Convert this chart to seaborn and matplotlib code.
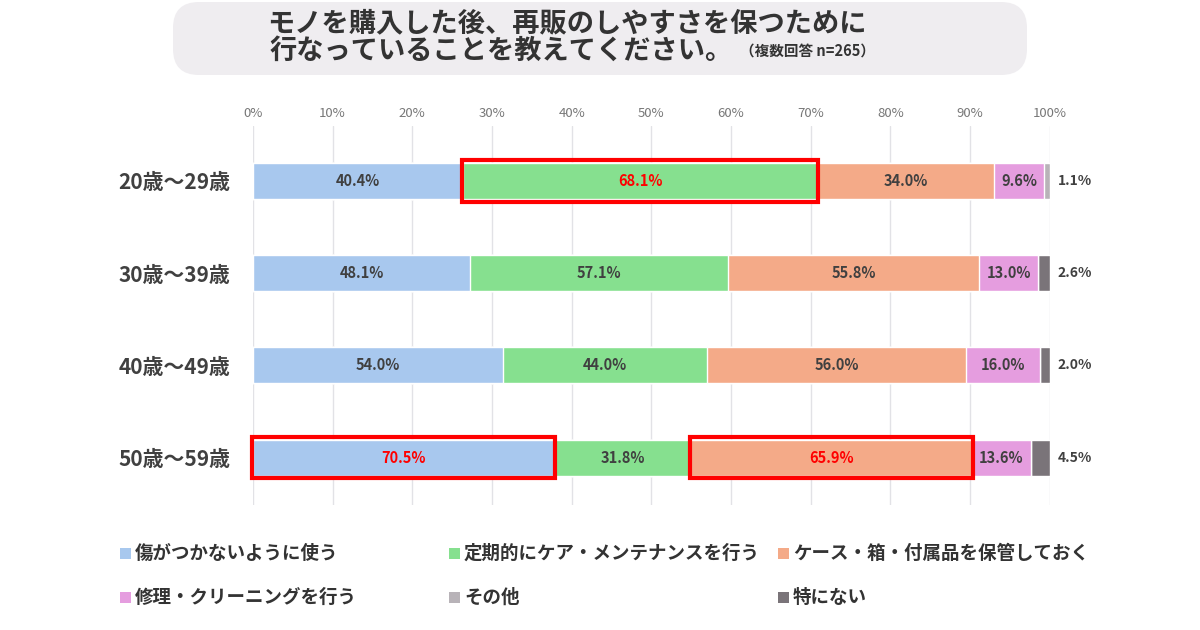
import numpy as np
import pandas as pd
import seaborn as sns
import matplotlib.pyplot as plt
from matplotlib.patches import Rectangle, FancyBboxPatch

sns.set_theme(style="white")
plt.rcParams['font.family'] = ['Noto Sans CJK JP', 'DejaVu Sans']

ages = ["20歳〜29歳", "30歳〜39歳", "40歳〜49歳", "50歳〜59歳"]
answers = ["傷がつかないように使う", "定期的にケア・メンテナンスを行う", "ケース・箱・付属品を保管しておく",
           "修理・クリーニングを行う", "その他", "特にない"]
careful = [40.4, 48.1, 54.0, 70.5]
maintain = [68.1, 57.1, 44.0, 31.8]
keep_box = [34.0, 55.8, 56.0, 65.9]
repair = [9.6, 13.0, 16.0, 13.6]
other = [1.1, 0.0, 0.0, 0.0]
nothing = [0.0, 2.6, 2.0, 4.5]
colors = ["#a8c8ee", "#86e08f", "#f4aa88", "#e59ddf", "#b8b3b8", "#7a7479"]
# (row, answer) pairs outlined in red
highlights = [(0, 1), (3, 0), (3, 2)]

df = pd.DataFrame(dict(zip(answers, [careful, maintain, keep_box, repair, other, nothing])), index=ages)
share = df.div(df.sum(axis=1), axis=0) * 100
left = share.cumsum(axis=1) - share
right = share.cumsum(axis=1)

fig = plt.figure(figsize=(12, 6.3), dpi=100)

# overlay in pixel units for title box and legend
bg = fig.add_axes([0, 0, 1, 1])
bg.set_xlim(0, 1200)
bg.set_ylim(630, 0)
bg.axis("off")

ax = fig.add_axes([0.2108, 0.199, 0.664, 0.601])

bar_h = 0.39
# stacked bars: draw cumulative totals from the last answer backwards
for i in reversed(range(len(answers))):
    sns.barplot(x=right[answers[i]].values, y=ages, color=colors[i], orient="h",
                width=bar_h, saturation=1, ax=ax, zorder=2)

for r, age in enumerate(ages):
    for i, a in enumerate(answers):
        v = df.loc[age, a]
        if v == 0:
            continue
        red = (r, i) in highlights
        if i >= 4:
            ax.text(101, r, f"{v:.1f}%", ha="left", va="center", fontsize=10,
                    fontweight="bold", color="#404040", zorder=5)
        else:
            ax.text(left.loc[age, a] + share.loc[age, a] / 2, r, f"{v:.1f}%", ha="center",
                    va="center", fontsize=10.5, fontweight="bold",
                    color="#ff0000" if red else "#404040", zorder=5)
        if red:
            ax.add_patch(Rectangle((left.loc[age, a] - 0.1, r - bar_h / 2 - 0.03),
                                   share.loc[age, a] + 0.2, bar_h + 0.06, fill=False,
                                   edgecolor="#ff0000", lw=3, zorder=4, clip_on=False))

ax.set_xlim(0, 100)
ax.set_ylim(3.51, -0.596)
ax.set_xticks(np.arange(0, 101, 10))
ax.set_xticklabels([f"{t}%" for t in range(0, 101, 10)], fontsize=9.5, color="#777777")
ax.xaxis.tick_top()
ax.tick_params(axis="x", length=0, pad=4)
ax.tick_params(axis="y", length=0, pad=16)
for lab in ax.get_yticklabels():
    lab.set_fontsize(15)
    lab.set_fontweight("bold")
    lab.set_color("#404040")
ax.grid(axis="x", color="#e2e2e6", lw=1, zorder=0)
ax.set_axisbelow(True)
for s in ax.spines.values():
    s.set_visible(False)
ax.set_xlabel("")
ax.set_ylabel("")

# title box
bg.add_patch(FancyBboxPatch((173, 2), 854, 73, boxstyle="round,pad=0,rounding_size=26",
                            facecolor="#efedf0", edgecolor="none"))
bg.text(567, 23, "モノを購入した後、再販のしやすさを保つために", ha="center", va="center",
        fontsize=19.6, fontweight="bold", color="#333333")
bg.text(270, 51, "行なっていることを教えてください。", ha="left", va="center",
        fontsize=19.6, fontweight="bold", color="#333333")
bg.text(740, 52, "（複数回答 n=265）", ha="left", va="center",
        fontsize=10.5, fontweight="bold", color="#333333")

# legend, row by row
col_x = [120, 449, 778]
row_y = [553, 597]
for i, a in enumerate(answers):
    x, y = col_x[i % 3], row_y[i // 3]
    bg.add_patch(Rectangle((x, y - 5.5), 11, 11, facecolor=colors[i], edgecolor="none"))
    bg.text(x + 15, y, a, ha="left", va="center", fontsize=13.3, fontweight="bold", color="#333333")

fig.savefig("out.png", dpi=100, facecolor="white")
